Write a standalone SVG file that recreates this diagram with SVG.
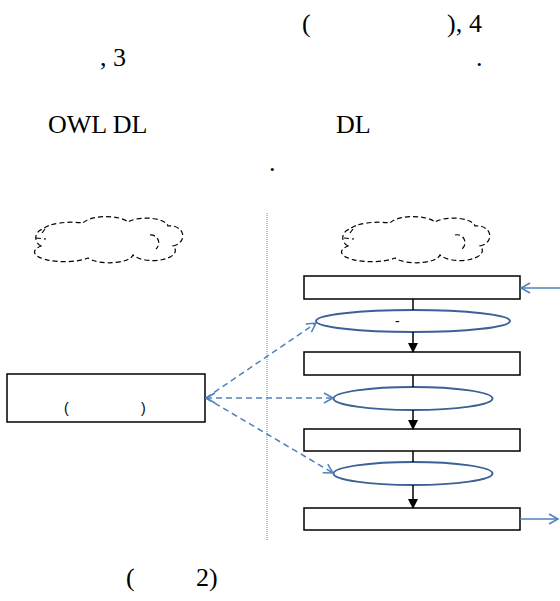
<svg xmlns="http://www.w3.org/2000/svg" width="560" height="601" viewBox="0 0 560 601">
  <style>
    .t { font-family: "Liberation Serif", "Times New Roman", serif; font-size: 26px; fill: #000; }
    .s { font-family: "Liberation Sans", Arial, sans-serif; font-size: 14px; fill: #000; }
    .box { fill: #fff; stroke: #000; stroke-width: 1.5; }
    .oval { fill: #fff; stroke: #3b6196; stroke-width: 2; }
    .cloud { fill: none; stroke: #000; stroke-width: 1.2; stroke-dasharray: 5 3; }
    .flow { stroke: #000; stroke-width: 1.5; fill: none; }
    .link { stroke: #4f81bd; stroke-width: 1.5; fill: none; stroke-dasharray: 6 4; }
    .io { stroke: #4f81bd; stroke-width: 1.5; fill: none; }
  </style>
  <defs>
    <marker id="blk" markerWidth="10" markerHeight="10" refX="9" refY="5" orient="auto" markerUnits="userSpaceOnUse">
      <path d="M0,0 L10,5 L0,10 Z" fill="#000"/>
    </marker>
    <marker id="open" markerWidth="12" markerHeight="12" refX="10" refY="6" orient="auto-start-reverse" markerUnits="userSpaceOnUse">
      <path d="M1,1 L10,6 L1,11" fill="none" stroke="#4f81bd" stroke-width="1.5"/>
    </marker>
    <path id="cloudShape" d="M8,28 A9,9 0 0 1 10,11 A30,10 0 0 1 50,5 A24,9 0 0 1 95,4 A22,9 0 0 1 135,8 A12,10 0 0 1 140,28 A20,9 0 0 1 100,37 A24,9 0 0 1 55,40 A28,9 0 0 1 8,28 Z"/>
  </defs>

  <!-- running text -->
  <g id="heading">
    <text class="t" x="302" y="32">(</text>
    <text class="t" x="447" y="32">),</text>
    <text class="t" x="469" y="32">4</text>
    <text class="t" x="100" y="66">,</text>
    <text class="t" x="113" y="66">3</text>
    <text class="t" x="476" y="66">.</text>
    <text class="t" x="48" y="133">OWL DL</text>
    <text class="t" x="336" y="133">DL</text>
    <text class="t" x="269" y="171">.</text>
  </g>

  <!-- clouds -->
  <g id="cloud-left">
    <use href="#cloudShape" class="cloud" transform="translate(33,218)"/>
    <path class="cloud" d="M42,233 L45,229 M36,238 L46,239 M150,235 A8,8 0 0 1 156,249"/>
  </g>
  <g id="cloud-right">
    <use href="#cloudShape" class="cloud" transform="translate(340,218)"/>
    <path class="cloud" d="M350,233 L353,229 M344,238 L354,239 M455,235 A8,8 0 0 1 462,249"/>
  </g>

  <!-- divider -->
  <line x1="267" y1="213" x2="267" y2="540" stroke="#6f9bd8" stroke-width="1.2" stroke-dasharray="1 1"/>

  <!-- left block -->
  <g id="source">
    <rect class="box" x="7" y="374" width="198" height="48"/>
    <text class="s" x="64" y="413">(</text>
    <text class="s" x="141" y="413">)</text>
  </g>

  <!-- right pipeline -->
  <g id="step1"><rect class="box" x="304" y="276" width="216" height="23"/></g>
  <g id="proc1">
    <ellipse class="oval" cx="413" cy="321" rx="97" ry="11"/>
    <text class="s" x="395" y="326" font-size="10">-</text>
  </g>
  <g id="step2"><rect class="box" x="304" y="352" width="216" height="23"/></g>
  <g id="proc2"><ellipse class="oval" cx="413" cy="398.5" rx="79.5" ry="11.5"/></g>
  <g id="step3"><rect class="box" x="304" y="429" width="216" height="22"/></g>
  <g id="proc3"><ellipse class="oval" cx="413" cy="473.5" rx="79.5" ry="11.5"/></g>
  <g id="step4"><rect class="box" x="304" y="508" width="216" height="22"/></g>

  <!-- connectors -->
  <g id="connectors">
    <line class="flow" x1="413" y1="299" x2="413" y2="310"/>
    <line class="flow" x1="413" y1="332" x2="413" y2="352" marker-end="url(#blk)"/>
    <line class="flow" x1="413" y1="375" x2="413" y2="387"/>
    <line class="flow" x1="413" y1="410" x2="413" y2="429" marker-end="url(#blk)"/>
    <line class="flow" x1="413" y1="451" x2="413" y2="462"/>
    <line class="flow" x1="413" y1="485" x2="413" y2="508" marker-end="url(#blk)"/>

    <line class="io" x1="560" y1="288" x2="521" y2="288" marker-end="url(#open)"/>
    <line class="io" x1="520" y1="519" x2="558" y2="519" marker-end="url(#open)"/>

    <line class="link" x1="206" y1="398" x2="316" y2="323" marker-end="url(#open)"/>
    <line class="link" x1="206" y1="398" x2="333" y2="398" marker-start="url(#open)" marker-end="url(#open)"/>
    <line class="link" x1="206" y1="398" x2="333" y2="473" marker-end="url(#open)"/>
  </g>

  <g id="caption">
    <text class="t" x="126" y="586">(</text>
    <text class="t" x="196" y="586">2)</text>
  </g>
</svg>
